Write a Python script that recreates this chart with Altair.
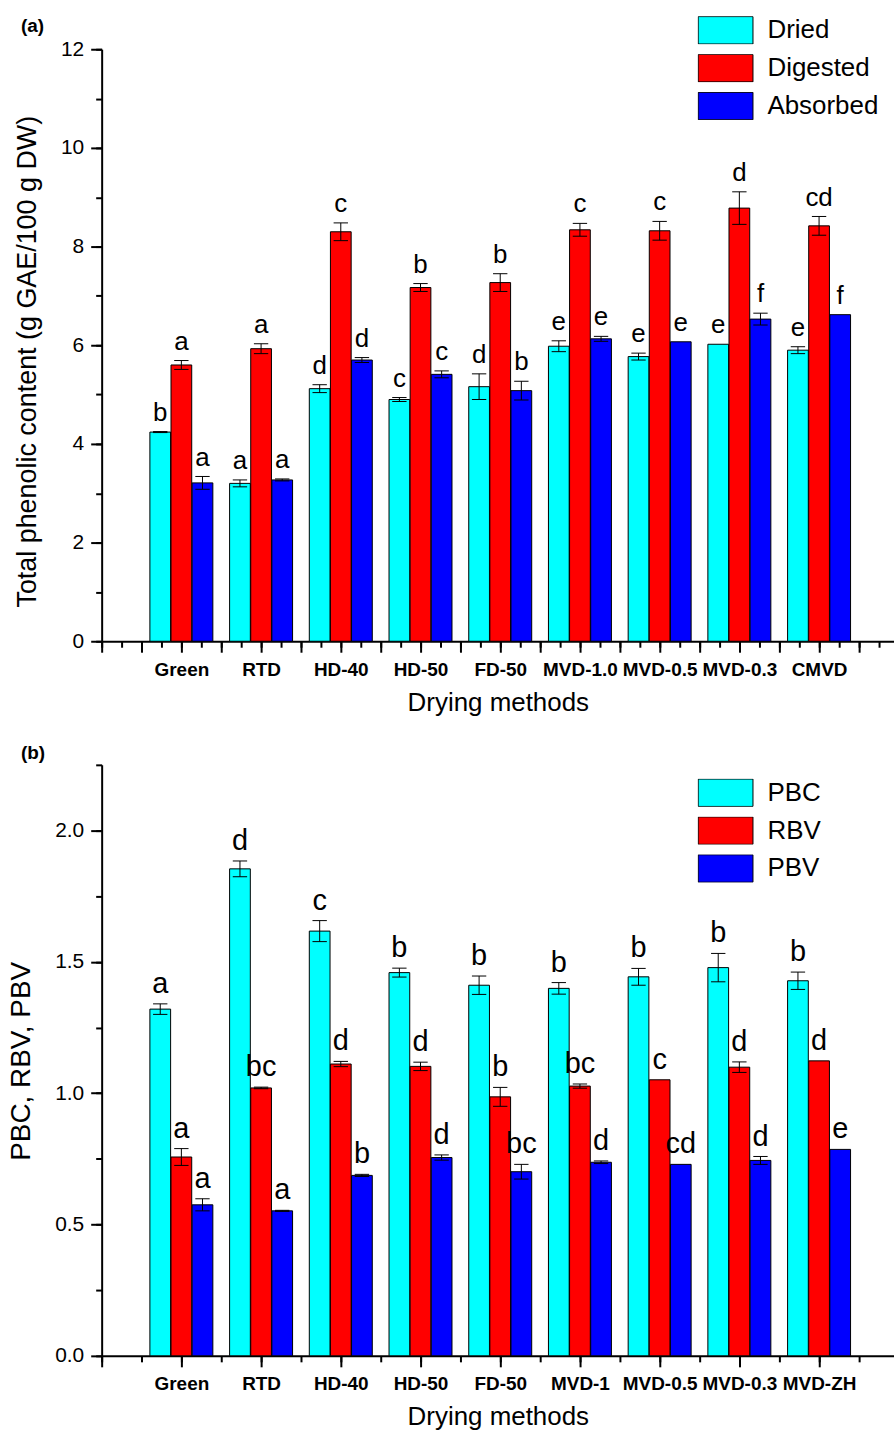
import altair as alt
import pandas as pd

FONT = "Liberation Sans"

# ---------------- Panel (a) data ----------------
cats_a = ["Green", "RTD", "HD-40", "HD-50", "FD-50", "MVD-1.0", "MVD-0.5", "MVD-0.3", "CMVD"]
series_a = ["Dried", "Digested", "Absorbed"]
dried = [4.24, 3.20, 5.12, 4.90, 5.16, 5.98, 5.77, 6.02, 5.90]
dried_err = [0.01, 0.07, 0.08, 0.04, 0.26, 0.11, 0.07, 0.0, 0.07]
dried_let = ["b", "a", "d", "c", "d", "e", "e", "e", "e"]
digested = [5.60, 5.93, 8.30, 7.17, 7.27, 8.34, 8.32, 8.78, 8.42]
digested_err = [0.09, 0.10, 0.18, 0.08, 0.18, 0.13, 0.19, 0.33, 0.19]
digested_let = ["a", "a", "c", "b", "b", "c", "c", "d", "cd"]
absorbed = [3.21, 3.27, 5.70, 5.41, 5.08, 6.13, 6.07, 6.53, 6.62]
absorbed_err = [0.13, 0.02, 0.05, 0.07, 0.19, 0.05, 0.0, 0.12, 0.0]
absorbed_let = ["a", "a", "d", "c", "b", "e", "e", "f", "f"]

# ---------------- Panel (b) data ----------------
cats_b = ["Green", "RTD", "HD-40", "HD-50", "FD-50", "MVD-1", "MVD-0.5", "MVD-0.3", "MVD-ZH"]
series_b = ["PBC", "RBV", "PBV"]
pbc = [1.320, 1.854, 1.617, 1.459, 1.411, 1.399, 1.443, 1.478, 1.428]
pbc_err = [0.020, 0.030, 0.040, 0.017, 0.035, 0.022, 0.032, 0.054, 0.033]
pbc_let = ["a", "d", "c", "b", "b", "b", "b", "b", "b"]
rbv = [0.757, 1.020, 1.111, 1.102, 0.986, 1.027, 1.051, 1.099, 1.123]
rbv_err = [0.032, 0.003, 0.010, 0.016, 0.036, 0.008, 0.0, 0.020, 0.0]
rbv_let = ["a", "bc", "d", "d", "b", "bc", "c", "d", "d"]
pbv = [0.575, 0.552, 0.687, 0.755, 0.701, 0.737, 0.729, 0.744, 0.786]
pbv_err = [0.023, 0.002, 0.004, 0.010, 0.028, 0.005, 0.0, 0.015, 0.0]
pbv_let = ["a", "a", "b", "d", "bc", "d", "cd", "d", "e"]

colors = ["#00FFFF", "#FF0000", "#0000FF"]


def long_df(cats, series, values, errs, letters):
    rows = []
    for s, name in enumerate(series):
        for i, c in enumerate(cats):
            rows.append(dict(cat=c, idx=i + 1, s=s, series=name,
                             value=values[s][i], err=errs[s][i], letter=letters[s][i]))
    return pd.DataFrame(rows)


df_a = long_df(cats_a, series_a, [dried, digested, absorbed],
               [dried_err, digested_err, absorbed_err], [dried_let, digested_let, absorbed_let])
df_b = long_df(cats_b, series_b, [pbc, rbv, pbv],
               [pbc_err, rbv_err, pbv_err], [pbc_let, rbv_let, pbv_let])

XMAX = 9.94
W = 795


def steps(step, vmax):
    n = int(round(vmax / step))
    return [round(i * step, 4) for i in range(n + 1) if i * step <= vmax + 1e-9]


def panel(df, cats, series, ymax, ymajor, yminor, yfmt, ytitle, ytitle_size, ytitle_y, x_major, x_minor,
          letter_size, legend_y, tag, tag_y, height):
    names = "[" + ",".join("'" + c + "'" for c in cats) + "]"
    xscale = alt.Scale(domain=[0, XMAX], nice=False, zero=False)
    yscale = alt.Scale(domain=[0, ymax], nice=False, zero=True)

    xaxis = alt.Axis(
        values=steps(x_major, XMAX), orient="bottom",
        labelExpr="(datum.value % 1 === 0 && datum.value >= 1 && datum.value <= 9) ? "
                  + names + "[datum.value - 1] : ''",
        tickSize=11,
        labelFontWeight="bold", labelFontSize=19, labelPadding=8,
        title="Drying methods", titleFontSize=26, titleFontWeight="normal", titlePadding=10,
        labelOverlap=False, labelFlush=False,
    )
    xaxis_minor = alt.Axis(values=steps(x_minor, XMAX), orient="bottom", tickSize=6,
                           labels=False, domain=False, title=None)
    yaxis = alt.Axis(
        values=steps(ymajor, ymax), orient="left",
        format=yfmt, tickSize=11,
        labelFontSize=21, labelPadding=7,
        title=ytitle, titleFontSize=ytitle_size, titleFontWeight="normal", titlePadding=19,
        titleY=ytitle_y,
        labelOverlap=False,
    )
    yaxis_minor = alt.Axis(values=steps(yminor, ymax), orient="left", tickSize=6,
                           labels=False, domain=False, title=None)

    legend = alt.Legend(
        title=None, orient="none", legendX=598, legendY=legend_y,
        symbolType="M-1,-0.5L1,-0.5L1,0.5L-1,0.5Z", symbolSize=3025,
        symbolStrokeColor="black", symbolStrokeWidth=1, symbolOpacity=1,
        clipHeight=28,
        labelFontSize=26, labelFont=FONT, labelOffset=14, rowPadding=10, padding=0,
        labelColor="black",
    )

    base = alt.Chart(df).transform_calculate(
        pos="datum.idx + (datum.s - 1) * 0.265",
        l="datum.idx + (datum.s - 1) * 0.265 - 0.13",
        r="datum.idx + (datum.s - 1) * 0.265 + 0.13",
        cl="datum.idx + (datum.s - 1) * 0.265 - 0.09",
        cr="datum.idx + (datum.s - 1) * 0.265 + 0.09",
        lo="datum.value - datum.err",
        hi="datum.value + datum.err",
    )

    bars = base.mark_bar(stroke="black", strokeWidth=1, opacity=1).encode(
        x=alt.X("l:Q", scale=xscale, axis=xaxis),
        x2="r:Q",
        y=alt.Y("value:Q", scale=yscale, axis=yaxis),
        y2=alt.datum(0),
        color=alt.Color("series:N", scale=alt.Scale(domain=series, range=colors), legend=legend),
    )
    eb = base.transform_filter("datum.err > 0")
    stem = eb.mark_rule(color="black", strokeWidth=1).encode(
        x=alt.X("pos:Q", scale=xscale, axis=xaxis_minor),
        y=alt.Y("lo:Q", scale=yscale, axis=yaxis_minor),
        y2="hi:Q",
    )
    cap_top = eb.mark_rule(color="black", strokeWidth=1).encode(
        x=alt.X("cl:Q", scale=xscale, axis=None), x2="cr:Q",
        y=alt.Y("hi:Q", scale=yscale, axis=None),
    )
    cap_bot = eb.mark_rule(color="black", strokeWidth=1).encode(
        x=alt.X("cl:Q", scale=xscale, axis=None), x2="cr:Q",
        y=alt.Y("lo:Q", scale=yscale, axis=None),
    )
    letters = base.mark_text(baseline="alphabetic", dy=-11, fontSize=letter_size,
                             font=FONT, color="black").encode(
        x=alt.X("pos:Q", scale=xscale, axis=None),
        y=alt.Y("hi:Q", scale=yscale, axis=None),
        text="letter:N",
    )
    tag_t = alt.Chart(pd.DataFrame({"t": [tag]})).mark_text(
        align="left", baseline="middle", fontWeight="bold", fontSize=19, font=FONT, color="black"
    ).encode(text="t:N", x=alt.value(-81), y=alt.value(tag_y))

    return alt.layer(bars, stem, cap_top, cap_bot, letters, tag_t).resolve_axis(
        x="independent", y="independent"
    ).properties(width=W, height=height)


pa = panel(df_a, cats_a, series_a, 12, 2, 1, "d", "Total phenolic content (g GAE/100 g DW)", 27, 313,
           0.5, 0.25, 26, -33, "(a)", -23, 594)
pb = panel(df_b, cats_b, series_b, 2.25, 0.5, 0.25, ".1f", "PBC, RBV, PBV", 28, 297,
           1, 0.5, 29, 14, "(b)", -12, 593)

chart = alt.vconcat(pa, pb, spacing=29).resolve_scale(color="independent").properties(
    padding={"left": 7, "top": 14, "right": 0, "bottom": 0},
    background="white",
).configure(
    font=FONT,
).configure_view(
    stroke=None,
).configure_axis(
    grid=False, domainColor="black", domainWidth=2, tickColor="black", tickWidth=2,
    labelColor="black", titleColor="black", labelFont=FONT, titleFont=FONT,
)

chart.save("out.html", embed_options={"renderer": "svg", "actions": False})
